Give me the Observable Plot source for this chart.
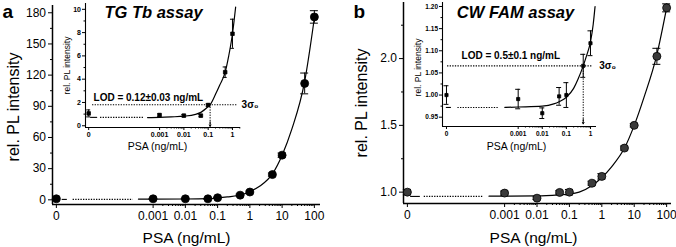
<!DOCTYPE html>
<html><head><meta charset="utf-8">
<script src="https://cdn.jsdelivr.net/npm/d3@7"></script>
<script src="https://cdn.jsdelivr.net/npm/@observablehq/plot@0.6"></script>
<style>
body{margin:0;background:#fff;}
#c{position:relative;width:676px;height:247px;overflow:hidden;background:#fff;}
#c svg{position:absolute;top:0;}
</style></head><body><div id="c"></div>
<script>
const FONT = "'Liberation Sans', Arial, Helvetica, sans-serif";

// ---------- data ----------
const psa = [0, 0.001, 0.01, 0.05, 0.1, 0.5, 1, 5, 10, 50, 100];
const plA = [1, 1, 1, 1, 2, 4.5, 7.5, 24.3, 43, 112, 176];
const errA = [0.5, 0.5, 0.5, 0.5, 0.5, 1, 1, 1.5, 2, 10, 6];
const plB = [1.0, 0.993, 0.955, 0.998, 1.0, 1.067, 1.118, 1.33, 1.50, 2.017, 2.38];
const errB = [0.02, 0.015, 0.01, 0.012, 0.02, 0.015, 0.02, 0.015, 0.012, 0.06, 0.03];

const fitXA = [0.00035, 0.001, 0.01, 0.05, 0.1, 0.2, 0.5, 1, 2, 5, 10, 20, 50, 100];
const fitYA = [0.7, 0.7, 0.8, 1.1, 1.8, 2.8, 4.6, 7.9, 13, 25, 43, 68, 114, 175];
const fitXB = [0.00033, 0.001, 0.01, 0.05, 0.1, 0.2, 0.5, 1, 2, 5, 10, 20, 50, 100];
const fitYB = [0.97, 0.97, 0.972, 0.98, 0.985, 1.0, 1.05, 1.11, 1.19, 1.33, 1.50, 1.71, 2.03, 2.38];

const psaIn = [0, 0.001, 0.01, 0.05, 0.1, 0.5, 1];
const plInA = [1.06, 0.92, 0.87, 0.87, 1.78, 4.6, 7.9];
const errInA = [0.3, 0.1, 0.1, 0.1, 0.1, 0.45, 1.25];
const plInB = [1.0, 0.991, 0.959, 0.997, 1.0, 1.066, 1.117];
const errInB = [0.021, 0.022, 0.012, 0.02, 0.028, 0.026, 0.028];

const fitXInA = [0.00032, 0.001, 0.003, 0.01, 0.03, 0.05, 0.1, 0.12, 0.2, 0.3, 0.5, 0.7, 1, 1.35];
const fitYInA = [0.7, 0.72, 0.76, 0.82, 0.98, 1.15, 1.65, 1.81, 2.7, 3.5, 4.6, 6, 7.9, 10.2];
const fitXInB = [0.00028, 0.001, 0.01, 0.03, 0.05, 0.1, 0.2, 0.3, 0.5, 0.7, 1, 1.3, 1.55];
const fitYInB = [0.972, 0.973, 0.975, 0.98, 0.985, 0.995, 1.015, 1.035, 1.066, 1.09, 1.12, 1.16, 1.2];

const lodA = 0.12, sigmaA = 1.81;
const lodB = 0.5, sigmaB = 1.066;
const lodTextA = "LOD = 0.12±0.03 ng/mL";
const lodTextB = "LOD = 0.5±0.1 ng/mL";

const xTicksMain = [0, 0.001, 0.01, 0.1, 1, 10, 100];
const xLabelsMain = ["0", "0.001", "0.01", "0.1", "1", "10", "100"];
const xTicksIn = [0, 0.001, 0.01, 0.1, 1];
const xLabelsIn = ["0", "0.001", "0.01", "0.1", "1"];
const yTicksA = [0, 30, 60, 90, 120, 150, 180];
const yMinorA = [15, 45, 75, 105, 135, 165];
const yTicksB = [1.0, 1.5, 2.0];
const yMinorB = [1.25, 1.75, 2.25];
const yTicksInA = [0, 2, 4, 6, 8, 10];
const yMinorInA = [1, 3, 5, 7, 9];
const yTicksInB = [0.95, 1.0, 1.05, 1.10, 1.15, 1.20];
const yMinorInB = [0.975, 1.025, 1.075, 1.125, 1.175];

// ---------- helpers ----------
const u = (v, zero) => v === 0 ? zero : Math.log10(v);
const minorLog = (lo, hi) => {
  const out = [];
  for (let k = -4; k <= 3; k++) for (let m = 2; m <= 9; m++) {
    const p = Math.log10(m * Math.pow(10, k));
    if (p > lo && p < hi) out.push(p);
  }
  return out;
};

function panel(o) {
  const zero = o.zero;
  const lab = new Map(o.xTicks.map((v, i) => [u(v, zero), o.xLabels[i]]));
  const ptsX = (d) => u(d, zero);
  const marks = [
    Plot.axisX(o.xTicks.map(v => u(v, zero)), {tickSize: o.tick, tickPadding: o.tickPad, tickFormat: d => lab.get(d), fontSize: o.fs, fontWeight: o.fw, label: null}),
    Plot.axisX(minorLog(o.minorLo, o.xDomain[1]), {tickSize: o.tick / 2, tickFormat: () => "", label: null}),
    Plot.axisY(o.yTicks, {tickSize: o.tick, tickPadding: o.tickPad, tickFormat: o.yFmt, fontSize: o.fs, fontWeight: o.fw, label: null}),
    Plot.axisY(o.yMinor, {tickSize: o.tick / 2, tickFormat: () => "", label: null}),
    Plot.ruleX([o.xDomain[0]], {strokeWidth: o.axisW}),
    Plot.ruleY([o.yDomain[0]], {strokeWidth: o.axisW}),
    // axis break
    Plot.ruleY([o.breakY], {x1: o.solid[0], x2: o.solid[1], strokeWidth: 1.1}),
    Plot.ruleY([o.breakY], {x1: o.dotted[0], x2: o.dotted[1], strokeWidth: 1.1, strokeDasharray: "1.3 1.3"}),
    // fit curve
    Plot.line(o.fitY, {x: (d, i) => u(o.fitX[i], zero), y: d => d, curve: "monotone-x", strokeWidth: 1.2}),
    // error bars
    Plot.ruleX(o.x, {x: ptsX, y1: (d, i) => o.y[i] - o.err[i], y2: (d, i) => o.y[i] + o.err[i], strokeWidth: 1}),
    Plot.ruleY(o.x, {x1: ptsX, x2: ptsX, y: (d, i) => o.y[i] + o.err[i], insetLeft: -o.cap, insetRight: -o.cap, strokeWidth: 1}),
    Plot.ruleY(o.x, {x1: ptsX, x2: ptsX, y: (d, i) => o.y[i] - o.err[i], insetLeft: -o.cap, insetRight: -o.cap, strokeWidth: 1}),
    Plot.dot(o.x, {x: ptsX, y: (d, i) => o.y[i], r: o.r, symbol: o.symbol, fill: o.dotFill, stroke: "black", strokeWidth: 0.8}),
    // axis titles
    Plot.text([o.xTitle], {frameAnchor: "bottom", dx: o.xTitleDx, dy: o.xTitleDy, fontSize: o.titleFs, textAnchor: "middle", lineAnchor: "middle", fontWeight: o.titleFw}),
    Plot.text([o.yTitle], {frameAnchor: "left", dx: o.yTitleDx, dy: o.yTitleDy || 0, rotate: -90, fontSize: o.yTitleFs, textAnchor: "middle", lineAnchor: "middle", fontWeight: o.titleFw})
  ];
  if (o.extra) marks.push(...o.extra(zero));
  return Plot.plot({
    width: 338, height: 247,
    marginLeft: o.m[0], marginRight: o.m[1], marginTop: o.m[2], marginBottom: o.m[3],
    x: {type: "linear", domain: o.xDomain, label: null},
    y: {type: "linear", domain: o.yDomain, label: null},
    style: {fontFamily: FONT, background: "transparent", overflow: "visible", color: "black"},
    marks
  });
}

const c = document.getElementById("c");
function place(svg, left) { svg.style.left = left + "px"; c.appendChild(svg); }

// ---------- panel a ----------
place(panel({
  zero: -6, xDomain: [-6.12, 2.19], yDomain: [-4.5, 187], m: [52, 18, 5, 43],
  xTicks: xTicksMain, xLabels: xLabelsMain, minorLo: -3, yTicks: yTicksA, yMinor: yMinorA, yFmt: d3.format("d"),
  tick: 4, tickPad: 2.5, fs: 12, fw: "normal", axisW: 1.5,
  breakY: 0.4, solid: [-5.82, -5.66], dotted: [-5.48, -3.62],
  fitX: fitXA, fitY: fitYA, x: psa, y: plA, err: errA, cap: 4, r: 4, symbol: "circle", dotFill: "black",
  xTitle: "PSA (ng/mL)", xTitleDx: 0, xTitleDy: 34, titleFs: 15.5, titleFw: "normal",
  yTitle: "rel. PL intensity", yTitleDx: -39, yTitleDy: 2, yTitleFs: 16,
  extra: () => [
    Plot.text(["a"], {frameAnchor: "top-left", dx: -50, dy: 12, fontSize: 19, fontWeight: "bold", textAnchor: "start", lineAnchor: "bottom"}),
    Plot.text(["TG Tb assay"], {frameAnchor: "top-left", dx: 101, dy: 12, fontSize: 16.5, fontWeight: "bold", fontStyle: "italic", textAnchor: "middle", lineAnchor: "bottom"})
  ]
}), 0);

// ---------- panel b ----------
place(panel({
  zero: -6, xDomain: [-6.12, 2.15], yDomain: [0.915, 2.42], m: [65, 5, 2, 44],
  xTicks: xTicksMain, xLabels: xLabelsMain, minorLo: -3, yTicks: yTicksB, yMinor: yMinorB, yFmt: d3.format(".1f"),
  tick: 4, tickPad: 2.5, fs: 12, fw: "normal", axisW: 1.5,
  breakY: 0.968, solid: [-5.9, -5.6], dotted: [-5.48, -3.67],
  fitX: fitXB, fitY: fitYB, x: psa, y: plB, err: errB, cap: 4, r: 4, symbol: "circle", dotFill: "#3a3a3a",
  xTitle: "PSA (ng/mL)", xTitleDx: -4, xTitleDy: 35, titleFs: 15.5, titleFw: "normal",
  yTitle: "rel. PL intensity", yTitleDx: -42, yTitleDy: 0, yTitleFs: 16,
  extra: () => [
    Plot.text(["b"], {frameAnchor: "top-left", dx: -50, dy: 15, fontSize: 19, fontWeight: "bold", textAnchor: "start", lineAnchor: "bottom"}),
    Plot.text(["CW FAM assay"], {frameAnchor: "top-left", dx: 112, dy: 15, fontSize: 16.5, fontWeight: "bold", fontStyle: "italic", textAnchor: "middle", lineAnchor: "bottom"})
  ]
}), 338);

// ---------- inset a ----------
place(panel({
  zero: -5.92, xDomain: [-6.05, 0.33], yDomain: [-0.15, 10.5], m: [85, 98, 3, 120],
  xTicks: xTicksIn, xLabels: xLabelsIn, minorLo: -3, yTicks: yTicksInA, yMinor: yMinorInA, yFmt: d3.format("d"),
  tick: 3, tickPad: 1.5, fs: 7, fw: "bold", axisW: 1.1,
  breakY: 0.72, solid: [-5.84, -5.55], dotted: [-5.43, -3.66],
  fitX: fitXInA, fitY: fitYInA, x: psaIn, y: plInA, err: errInA, cap: 2, r: 2, symbol: "square", dotFill: "black",
  xTitle: "PSA (ng/mL)", xTitleDx: -5.5, xTitleDy: 19, titleFs: 10.5, titleFw: "normal",
  yTitle: "rel. PL intensity", yTitleDx: -18, yTitleDy: 0, yTitleFs: 8.5,
  extra: () => [
    Plot.ruleY([sigmaA], {x1: -5.76, x2: 0.21, strokeWidth: 1.1, strokeDasharray: "1.3 1.3"}),
    Plot.text([lodTextA], {x: -5.72, y: sigmaA, dy: -3.5, textAnchor: "start", lineAnchor: "bottom", fontSize: 10, fontWeight: "bold"}),
    Plot.text(["3σ₀"], {x: 0.21, y: sigmaA, dx: 4, textAnchor: "start", lineAnchor: "middle", fontSize: 10, fontWeight: "bold"}),
    Plot.ruleX([Math.log10(lodA)], {y1: sigmaA, y2: 0, strokeWidth: 1, strokeDasharray: "1.3 1.3"}),
    Plot.arrow([lodA], {x1: d => Math.log10(d), x2: d => Math.log10(d), y1: 0.35, y2: -0.05, headLength: 5, strokeWidth: 1})
  ]
}), 0);

// ---------- inset b ----------
place(panel({
  zero: -5.975, xDomain: [-6.14, 0.25], yDomain: [0.929, 1.209], m: [104, 80, 2, 121],
  xTicks: xTicksIn, xLabels: xLabelsIn, minorLo: -3, yTicks: yTicksInB, yMinor: yMinorInB, yFmt: d3.format(".2f"),
  tick: 3, tickPad: 1.5, fs: 6.5, fw: "bold", axisW: 1.1,
  breakY: 0.972, solid: [-5.98, -5.77], dotted: [-5.5, -3.78],
  fitX: fitXInB, fitY: fitYInB, x: psaIn, y: plInB, err: errInB, cap: 2.5, r: 1.8, symbol: "square", dotFill: "black",
  xTitle: "PSA (ng/mL)", xTitleDx: -3, xTitleDy: 20, titleFs: 10.5, titleFw: "normal",
  yTitle: "rel. PL intensity", yTitleDx: -24, yTitleDy: 3, yTitleFs: 8.5,
  extra: () => [
    Plot.ruleY([sigmaB], {x1: -5.93, x2: 0.11, strokeWidth: 1.1, strokeDasharray: "1.3 1.3"}),
    Plot.text([lodTextB], {x: -5.35, y: sigmaB, dy: -7, textAnchor: "start", lineAnchor: "bottom", fontSize: 10, fontWeight: "bold"}),
    Plot.text(["3σ₀"], {x: 0.11, y: sigmaB, dx: 6, textAnchor: "start", lineAnchor: "middle", fontSize: 10, fontWeight: "bold"}),
    Plot.ruleX([Math.log10(lodB)], {y1: sigmaB, y2: 0.94, strokeWidth: 1, strokeDasharray: "1.3 1.3"}),
    Plot.arrow([lodB], {x1: d => Math.log10(d), x2: d => Math.log10(d), y1: 0.946, y2: 0.935, headLength: 5, strokeWidth: 1})
  ]
}), 338);
</script></body></html>
